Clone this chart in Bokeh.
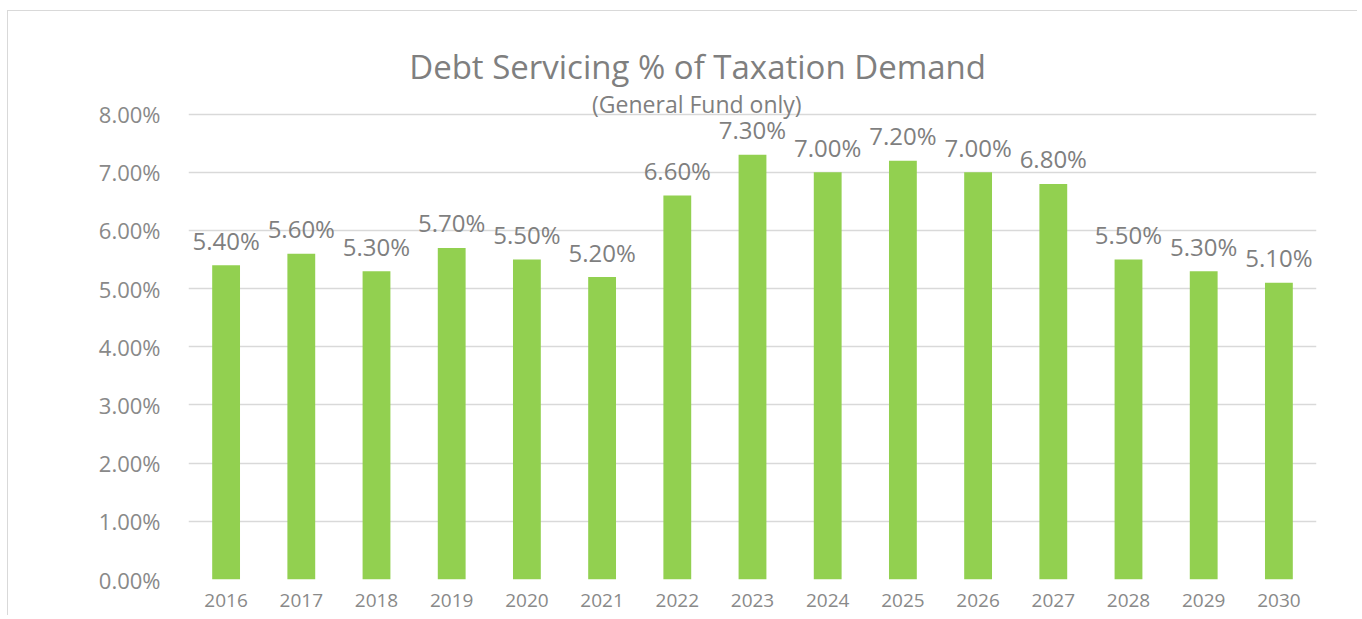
from bokeh.plotting import figure
from bokeh.models import ColumnDataSource, FactorRange, Range1d, Label, FixedTicker, CustomJSTickFormatter
from bokeh.core.properties import value
from bokeh.embed import file_html
from bokeh.resources import INLINE

years = ["2016", "2017", "2018", "2019", "2020", "2021", "2022", "2023",
         "2024", "2025", "2026", "2027", "2028", "2029", "2030"]
pct = [5.4, 5.6, 5.3, 5.7, 5.5, 5.2, 6.6, 7.3, 7.0, 7.2, 7.0, 6.8, 5.5, 5.3, 5.1]
labels = ["%.2f%%" % v for v in pct]
y_ticks = [0, 1, 2, 3, 4, 5, 6, 7, 8]
title_text = "Debt Servicing % of Taxation Demand"
subtitle_text = "(General Fund only)"

FONT = "Open Sans"
GRAY = "#7f7f7f"

src = ColumnDataSource(dict(x=years, y=pct, lab=labels))

# y range extends above 8% to leave room for the title inside the frame
p = figure(width=1350, height=605, output_backend="svg", toolbar_location=None,
           x_range=FactorRange(*years, range_padding=0), y_range=Range1d(0, 9.3),
           min_border_left=180, min_border_right=42, min_border_top=27, min_border_bottom=37)
p.styles = {"border-top": "1px solid #d9d9d9", "border-left": "1px solid #d9d9d9",
            "margin-left": "7px", "margin-top": "10px"}

p.vbar(x="x", top="y", width=0.37, source=src, fill_color="#92D050", line_color=None)
p.text(x="x", y="y", text="lab", source=src, text_align="center", text_baseline="alphabetic",
       y_offset=-25, text_font=value(FONT), text_font_size="24px", text_color=GRAY)

p.outline_line_color = None
p.background_fill_color = "white"
p.border_fill_color = "white"
p.xgrid.grid_line_color = None
p.ygrid.grid_line_color = "#d9d9d9"
p.ygrid.grid_line_width = 1.5

p.yaxis.ticker = FixedTicker(ticks=y_ticks)
p.yaxis.formatter = CustomJSTickFormatter(code="return tick.toFixed(2) + '%';")
for ax in (p.xaxis, p.yaxis):
    ax.axis_line_color = None
    ax.major_tick_line_color = None
    ax.minor_tick_line_color = None
    ax.major_label_text_font = FONT
    ax.major_label_text_color = "#898989"
p.yaxis.major_label_text_font_size = "22px"
p.yaxis.major_label_standoff = 22
p.xaxis.major_label_text_font_size = "19px"
p.xaxis.major_label_standoff = 8

p.add_layout(Label(x=6.77, y=8.826, text=title_text, text_align="center", text_baseline="middle",
                   text_font=FONT, text_font_size="33px", text_color=GRAY))
p.add_layout(Label(x=6.76, y=8.17, text=subtitle_text, text_align="center", text_baseline="middle",
                   text_font=FONT, text_font_size="23px", text_color=GRAY))

open("out.html", "w").write(file_html(p, INLINE))
